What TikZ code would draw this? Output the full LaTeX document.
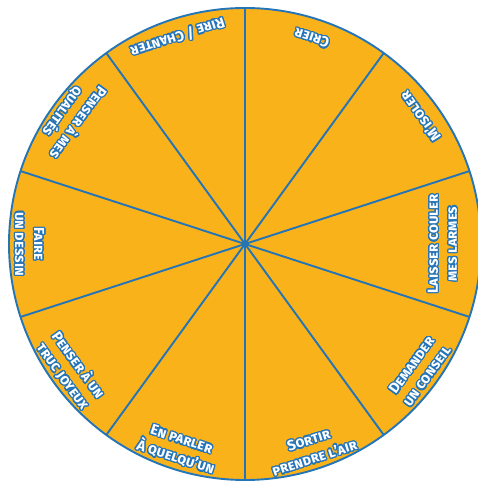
\documentclass[tikz,border=0pt]{standalone}
\usepackage{fontspec}
\setsansfont{Fira Sans}
\usepackage[copies]{contour}
\usetikzlibrary{calc}
\contourlength{1.3pt}
\definecolor{roue}{RGB}{249,178,26}
\definecolor{trait}{RGB}{36,116,184}
\newcommand{\lettre}[1]{\contour{trait}{\textcolor{white}{#1}}}
\tikzset{
  secteur/.style={draw=trait, line width=1.9pt},
  etiquette/.style={font=\sffamily\bfseries\scshape\fontsize{14.5}{19}\selectfont, align=center, inner sep=0pt}
}

\begin{document}
\begin{tikzpicture}[x=1pt, y=1pt]
            \useasboundingbox (0,0) rectangle (478,484);
            \coordinate (O) at (245,240);

            % Disque et rayons
            \fill[roue] (O) circle (236);
            \foreach \a in {90,54,...,-234}
                \draw[secteur] (O) -- ++(\a:236);
            \draw[secteur] (O) circle (236);

            % Textes (haut des lettres vers le centre)
            \node[etiquette, rotate=162] (crier) at ($(O)+(72:217)$) {\lettre{Crier}};
            \node[etiquette, rotate=126] (isoler) at ($(O)+(36:217)$) {\lettre{M'isoler}};
            \node[etiquette, rotate=90] (larmes) at ($(O)+(0:198)$) {\lettre{Laisser couler}\\\lettre{mes larmes}};
            \node[etiquette, rotate=54] (conseil) at ($(O)+(-36:216)$) {\lettre{Demander}\\\lettre{un conseil}};
            \node[etiquette, rotate=18] (sortir) at ($(O)+(-72:216)$) {\lettre{Sortir}\\\lettre{prendre l'air}};
            \node[etiquette, rotate=-18] (parler) at ($(O)+(-108:216)$) {\lettre{En parler}\\\lettre{À quelqu'un}};
            \node[etiquette, rotate=-54] (joyeux) at ($(O)+(-144:216)$) {\lettre{Penser à un}\\\lettre{truc joyeux}};
            \node[etiquette, rotate=-90] (dessin) at ($(O)+(180:216)$) {\lettre{Faire}\\\lettre{un dessin}};
            \node[etiquette, rotate=234] (qualites) at ($(O)+(144:216)$) {\lettre{Penser à mes}\\\lettre{qualités}};
            \node[etiquette, rotate=198] (chanter) at ($(O)+(108:218)$) {\lettre{Rire / Chanter}};
        \end{tikzpicture}
\end{document}
